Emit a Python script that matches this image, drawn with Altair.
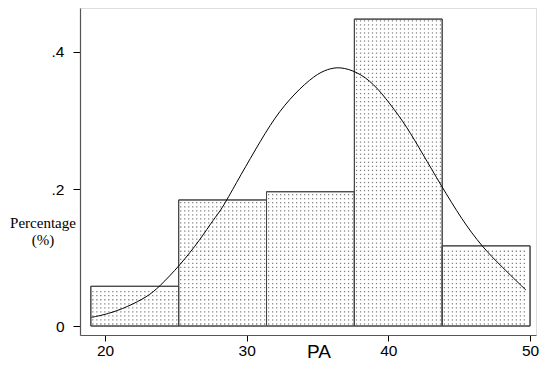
import altair as alt
import pandas as pd

# Histogram bins (PA) and fraction of observations per bin
bin_edges = [19.0, 25.2, 31.4, 37.6, 43.8, 50.0]
bar_pct = [0.058, 0.184, 0.196, 0.448, 0.117]

# Overlaid normal curve
curve_x = [19.05, 20.2, 21.6, 23.0, 23.8, 25.3, 26.7, 27.7, 28.2, 29.24, 30.6, 32.0,
           33.4, 34.8, 35.7, 36.6, 37.8, 38.96, 40.1, 41.3, 42.4, 43.7, 45.2, 46.6,
           48.0, 49.7]
curve_y = [0.0127, 0.0175, 0.028, 0.043, 0.0565, 0.089, 0.1255, 0.157, 0.169, 0.208,
           0.257, 0.3056, 0.34, 0.366, 0.375, 0.3786, 0.371, 0.354, 0.325, 0.291,
           0.252, 0.206, 0.155, 0.116, 0.0866, 0.0526]

x_ticks = [20, 30, 40, 50]
y_ticks = [0, 0.2, 0.4]

bars = pd.DataFrame({
    "idx": list(range(len(bar_pct))),
    "start": bin_edges[:-1],
    "end": bin_edges[1:],
    "pct": bar_pct,
    "base": [0.0] * len(bar_pct),
})
curve = pd.DataFrame({"x": curve_x, "y": curve_y})

x_scale = alt.Scale(domain=[18.235, 50.42], nice=False, zero=False)
y_scale = alt.Scale(domain=[-0.0131, 0.4642], nice=False, zero=False)

x_axis = alt.Axis(
    values=x_ticks, grid=False, title="PA", format="d",
    domainColor="#555555", domainWidth=1.2, tickColor="#000000", tickSize=6,
    labelFont="Liberation Sans", labelFontSize=15.5, labelColor="#000000", labelPadding=2,
    titleFont="Liberation Sans", titleFontSize=19, titleFontWeight="normal", titleColor="#000000",
    titleX=238.5, titleY=22, titleAlign="center", titleBaseline="alphabetic", titleAnchor="start",
)
y_axis = alt.Axis(
    values=y_ticks, grid=False, title=["Percentage", "(%)"],
    labelExpr="datum.value == 0 ? '0' : replace(format(datum.value, '.1f'), '0.', '.')",
    domainColor="#555555", domainWidth=1.2, tickColor="#000000", tickSize=7,
    labelFont="Liberation Sans", labelFontSize=15.5, labelColor="#000000", labelPadding=9,
    titleFont="Liberation Serif", titleFontSize=15, titleFontWeight="normal", titleColor="#000000",
    titleAngle=0, titleAlign="center", titleBaseline="alphabetic", titleAnchor="start",
    titleX=-37.5, titleY=219, titleLineHeight=17,
)

# dotted texture inside the bars (decoration), derived from the bar table
bin_w = bin_edges[1] - bin_edges[0]
dx = 0.282   # about 4 px horizontally
dy = 0.0059  # about 4 px vertically
nx = int((bin_edges[-1] - bin_edges[0]) / dx)
ny = int(max(bar_pct) / dy) + 1

dots = alt.Chart(alt.sequence(0, nx * ny, as_="i")).transform_calculate(
    gx=f"datum.i % {nx}",
    gy=f"floor(datum.i / {nx})",
).transform_calculate(
    px=f"{bin_edges[0]} + {dx / 2} + datum.gx * {dx}",
    py=f"{dy / 2} + datum.gy * {dy}",
).transform_calculate(
    idx=f"floor((datum.px - {bin_edges[0]}) / {bin_w})",
).transform_lookup(
    lookup="idx", from_=alt.LookupData(bars, "idx", ["pct"])
).transform_filter(
    "isValid(datum.pct) && datum.py < datum.pct - " + str(dy / 3)
).mark_square(size=1.6, color="#808080", opacity=1, strokeWidth=0).encode(
    x=alt.X("px:Q", scale=x_scale),
    y=alt.Y("py:Q", scale=y_scale),
)

hist = alt.Chart(bars).mark_rect(
    fill="#ffffff", stroke="#444444", strokeWidth=1
).encode(
    x=alt.X("start:Q", scale=x_scale, axis=x_axis),
    x2="end:Q",
    y=alt.Y("base:Q", scale=y_scale, axis=y_axis),
    y2="pct:Q",
)

outline = alt.Chart(bars).mark_rect(
    fill=None, stroke="#444444", strokeWidth=1
).encode(
    x=alt.X("start:Q", scale=x_scale),
    x2="end:Q",
    y=alt.Y("base:Q", scale=y_scale),
    y2="pct:Q",
)

line = alt.Chart(curve).mark_line(
    color="#000000", strokeWidth=1, interpolate="basis"
).encode(
    x=alt.X("x:Q", scale=x_scale),
    y=alt.Y("y:Q", scale=y_scale),
)

chart = alt.layer(hist, dots, outline, line).properties(
    width=456, height=327,
    autosize=alt.AutoSizeParams(type="none"),
    padding={"left": 72, "top": 0, "right": 3, "bottom": 28},
).configure_view(stroke=None).configure(background="white")

chart.save("out.html", embed_options={"renderer": "svg", "actions": False})
